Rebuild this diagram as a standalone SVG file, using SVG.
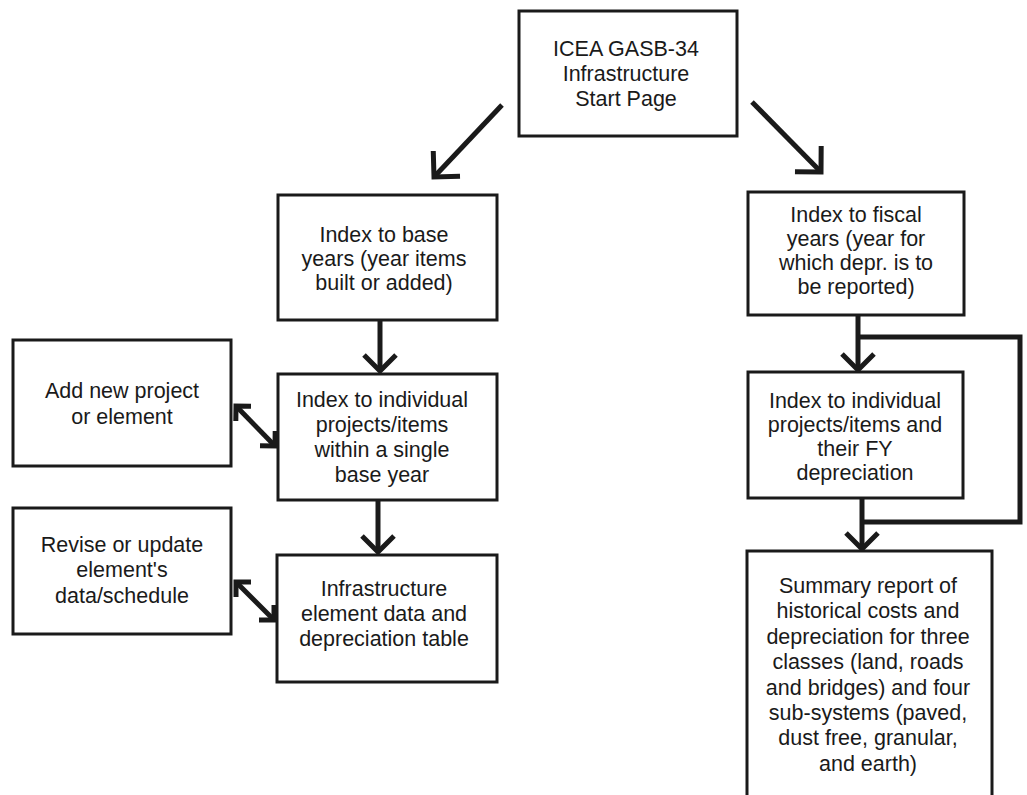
<svg xmlns="http://www.w3.org/2000/svg" width="1027" height="795" viewBox="0 0 1027 795">
<defs>
<style>
.box{fill:#fff;stroke:#1a1a1a;stroke-width:3}
.t{font-family:"Liberation Sans",Arial,Helvetica,sans-serif;font-size:21.5px;fill:#1a1a1a;text-anchor:middle}
.c{fill:none;stroke:#1a1a1a;stroke-width:5;stroke-linejoin:miter}
</style>
<marker id="big" markerUnits="userSpaceOnUse" markerWidth="40" markerHeight="40" refX="0" refY="0" orient="auto" overflow="visible">
<path d="M-18.4,-18.4 L0,0 L-18.4,18.4" fill="none" stroke="#1a1a1a" stroke-width="5"/>
</marker>
<marker id="mid" markerUnits="userSpaceOnUse" markerWidth="40" markerHeight="40" refX="0" refY="0" orient="auto" overflow="visible">
<path d="M-16,-16 L0,0 L-16,16" fill="none" stroke="#1a1a1a" stroke-width="5"/>
</marker>
<marker id="sm" markerUnits="userSpaceOnUse" markerWidth="30" markerHeight="30" refX="0" refY="0" orient="auto-start-reverse" overflow="visible">
<path d="M-10.6,-10.6 L0,0 L-10.6,10.6" fill="none" stroke="#1a1a1a" stroke-width="5"/>
</marker>
</defs>
<rect width="1027" height="795" fill="#fff"/>

<g id="connectors">
<line class="c" x1="502" y1="105" x2="434" y2="177" marker-end="url(#big)"/>
<line class="c" x1="752" y1="102" x2="821" y2="172" marker-end="url(#big)"/>
<line class="c" x1="380" y1="320" x2="380" y2="371" marker-end="url(#mid)"/>
<line class="c" x1="378" y1="500" x2="378" y2="552" marker-end="url(#mid)"/>
<line class="c" x1="236" y1="406" x2="275" y2="446" marker-start="url(#sm)" marker-end="url(#sm)"/>
<line class="c" x1="236" y1="582" x2="274" y2="620" marker-start="url(#sm)" marker-end="url(#sm)"/>
<line class="c" x1="858" y1="315" x2="858" y2="370" marker-end="url(#mid)"/>
<line class="c" x1="862" y1="498" x2="862" y2="549" marker-end="url(#mid)"/>
<polyline class="c" points="858,337 1020,337 1020,522 862,522"/>
</g>

<g id="start">
<rect class="box" x="519" y="11" width="218" height="125"/>
<text class="t" x="626" y="56">ICEA GASB-34</text>
<text class="t" x="626" y="81">Infrastructure</text>
<text class="t" x="626" y="106">Start Page</text>
</g>

<g id="base-years">
<rect class="box" x="278" y="195" width="219" height="125"/>
<text class="t" x="384" y="242">Index to base</text>
<text class="t" x="384" y="266">years (year items</text>
<text class="t" x="384" y="290">built or added)</text>
</g>

<g id="projects-base">
<rect class="box" x="278" y="374" width="219" height="126"/>
<text class="t" x="382" y="407">Index to individual</text>
<text class="t" x="382" y="432">projects/items</text>
<text class="t" x="382" y="457">within a single</text>
<text class="t" x="382" y="482">base year</text>
</g>

<g id="element-data">
<rect class="box" x="277" y="555" width="220" height="127"/>
<text class="t" x="384" y="596">Infrastructure</text>
<text class="t" x="384" y="621">element data and</text>
<text class="t" x="384" y="646">depreciation table</text>
</g>

<g id="add-new">
<rect class="box" x="13" y="340" width="218" height="126"/>
<text class="t" x="122" y="398">Add new project</text>
<text class="t" x="122" y="424">or element</text>
</g>

<g id="revise">
<rect class="box" x="13" y="508" width="218" height="126"/>
<text class="t" x="122" y="552">Revise or update</text>
<text class="t" x="122" y="577">element's</text>
<text class="t" x="122" y="603">data/schedule</text>
</g>

<g id="fiscal-years">
<rect class="box" x="748" y="192" width="216" height="123"/>
<text class="t" x="856" y="222">Index to fiscal</text>
<text class="t" x="856" y="246">years (year for</text>
<text class="t" x="856" y="270">which depr. is to</text>
<text class="t" x="856" y="294">be reported)</text>
</g>

<g id="projects-fy">
<rect class="box" x="748" y="372" width="215" height="126"/>
<text class="t" x="855" y="408">Index to individual</text>
<text class="t" x="855" y="432">projects/items and</text>
<text class="t" x="855" y="456">their FY</text>
<text class="t" x="855" y="480">depreciation</text>
</g>

<g id="summary">
<rect class="box" x="747" y="551" width="245" height="260"/>
<text class="t" x="868" y="593">Summary report of</text>
<text class="t" x="868" y="618">historical costs and</text>
<text class="t" x="868" y="644">depreciation for three</text>
<text class="t" x="868" y="669">classes (land, roads</text>
<text class="t" x="868" y="695">and bridges) and four</text>
<text class="t" x="868" y="720">sub-systems (paved,</text>
<text class="t" x="868" y="745">dust free, granular,</text>
<text class="t" x="868" y="771">and earth)</text>
</g>
</svg>
